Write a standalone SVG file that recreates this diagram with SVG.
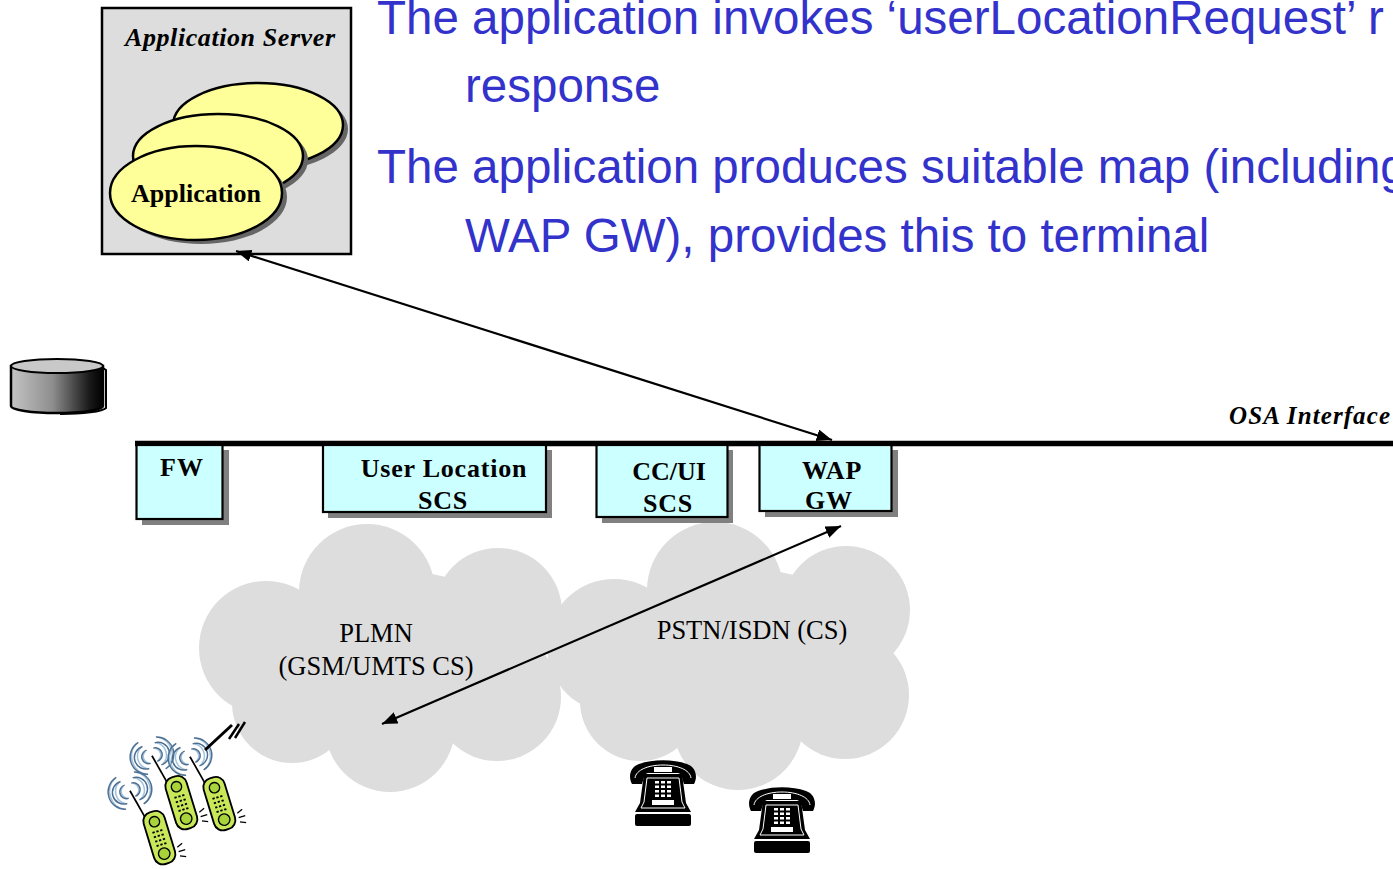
<svg xmlns="http://www.w3.org/2000/svg" xmlns:xlink="http://www.w3.org/1999/xlink" width="1393" height="869" viewBox="0 0 1393 869">
  <style>
    .box{fill:#ccffff;stroke:#000;stroke-width:2.2}
    .shadow{fill:#808080}
    .lbl{font-family:"Liberation Serif","Times New Roman",serif;font-weight:bold;font-size:26px;text-anchor:middle;fill:#000}
    .net{font-family:"Liberation Serif","Times New Roman",serif;font-size:26.5px;text-anchor:middle;fill:#000}
    .ital{font-family:"Liberation Serif","Times New Roman",serif;font-weight:bold;font-style:italic;fill:#000}
    .blue{font-family:"Liberation Sans",Arial,sans-serif;font-size:47.5px;fill:#3333cc}
    .conn{stroke:#000;stroke-width:2.2;fill:none;marker-start:url(#ah);marker-end:url(#ah)}
    .app{fill:#ffff99;stroke:#000;stroke-width:2.5}
    .appsh{fill:#666}
    .wave{fill:none;stroke:#4f6f90;stroke-width:1.3}
    .wave2{fill:none;stroke:#9fc3e0;stroke-width:1.3}
  </style>
  <defs>
    <marker id="ah" viewBox="0 0 10 10" refX="10" refY="5" markerWidth="7" markerHeight="5.5" orient="auto-start-reverse" markerUnits="strokeWidth" preserveAspectRatio="none">
      <path d="M0,0 L10,5 L0,10 Z" fill="#000"/>
    </marker>
    <linearGradient id="cylBody" x1="0" y1="0" x2="1" y2="0">
      <stop offset="0" stop-color="#c4c4c4"/>
      <stop offset="0.45" stop-color="#8e8e8e"/>
      <stop offset="0.85" stop-color="#1a1a1a"/>
      <stop offset="1" stop-color="#000"/>
    </linearGradient>
    <!-- cloud outline built from overlapping discs -->
    <g id="cloud" fill="#dddddd">
      <circle cx="367" cy="592" r="68"/>
      <circle cx="498" cy="612" r="64"/>
      <circle cx="266" cy="648" r="67"/>
      <circle cx="292" cy="703" r="60"/>
      <circle cx="390" cy="727" r="65"/>
      <circle cx="497" cy="697" r="64"/>
      <ellipse cx="390" cy="655" rx="140" ry="85"/>
    </g>
    <!-- desk telephone -->
    <g id="deskphone">
      <path d="M16,15 L54,15 L58,44 L63,53 L7,53 L12,44 Z" fill="#000"/>
      <path d="M19,19 L51,19 L54,43 L57,49 L13,49 L16,43 Z" fill="none" stroke="#fff" stroke-width="1"/>
      <path d="M4,25 C0,18 2,8 11,5 C25,0 45,0 59,5 C68,8 70,18 66,25 L56,25 C54,19 54,15 50,14 L20,14 C16,15 16,19 14,25 Z" fill="#000"/>
      <path d="M7,19 C8,11 20,6 35,6 C50,6 62,11 63,19" fill="none" stroke="#fff" stroke-width="1"/>
      <rect x="26" y="8" width="18" height="5" fill="#fff"/>
      <g fill="#fff">
        <rect x="27" y="22" width="4" height="2.5"/><rect x="33" y="22" width="4" height="2.5"/><rect x="39" y="22" width="4" height="2.5"/>
        <rect x="27" y="26.5" width="4" height="2.5"/><rect x="33" y="26.5" width="4" height="2.5"/><rect x="39" y="26.5" width="4" height="2.5"/>
        <rect x="27" y="31" width="4" height="2.5"/><rect x="33" y="31" width="4" height="2.5"/><rect x="39" y="31" width="4" height="2.5"/>
        <rect x="27" y="35.5" width="4" height="2.5"/><rect x="33" y="35.5" width="4" height="2.5"/><rect x="39" y="35.5" width="4" height="2.5"/>
        <rect x="24" y="41" width="22" height="5"/>
      </g>
      <rect x="7" y="55" width="56" height="12" rx="2" fill="#000"/>
      <line x1="9" y1="54" x2="61" y2="54" stroke="#fff" stroke-width="1"/>
    </g>
    <!-- mobile handset with radio waves -->
    <g id="cell">
      <path class="wave2" d="M-7.5,-28.3 A6,6 0 0 0 -7.5,-17.7 M-10,-32.6 A11,11 0 0 0 -10,-13.4 M-12.5,-37 A16,16 0 0 0 -12.5,-9"/>
      <path class="wave" d="M-6,-29 A5,5 0 0 0 -6,-17 M-8.5,-33 A10,10 0 0 0 -8.5,-13 M-11,-37.5 A15,15 0 0 0 -11,-8.5"/>
      <path class="wave2" d="M1.5,-28.3 A6,6 0 0 1 1.5,-17.7 M4,-32.6 A11,11 0 0 1 4,-13.4 M6.5,-37 A16,16 0 0 1 6.5,-9"/>
      <path class="wave" d="M0,-29 A5,5 0 0 1 0,-17 M2.5,-33 A10,10 0 0 1 2.5,-13 M5,-37.5 A15,15 0 0 1 5,-8.5"/>
      <line x1="-3" y1="-23" x2="3" y2="4" stroke="#000" stroke-width="1.5"/>
      <rect x="0" y="0" width="19" height="47" rx="8" fill="#c8e85a" stroke="#000" stroke-width="1.6"/>
      <circle cx="9.5" cy="9" r="4.5" fill="#a8d43a" stroke="#000" stroke-width="1.2"/>
      <circle cx="9.5" cy="38" r="5" fill="#a8d43a" stroke="#000" stroke-width="1.2"/>
      <g fill="#000">
        <rect x="5" y="17" width="2" height="1.6"/><rect x="8.5" y="17" width="2" height="1.6"/><rect x="12" y="17" width="2" height="1.6"/>
        <rect x="5" y="21" width="2" height="1.6"/><rect x="8.5" y="21" width="2" height="1.6"/><rect x="12" y="21" width="2" height="1.6"/>
        <rect x="5" y="25" width="2" height="1.6"/><rect x="8.5" y="25" width="2" height="1.6"/><rect x="12" y="25" width="2" height="1.6"/>
        <rect x="5" y="29" width="2" height="1.6"/><rect x="8.5" y="29" width="2" height="1.6"/><rect x="12" y="29" width="2" height="1.6"/>
      </g>
      <path d="M22,36 L27,34 M22,40 L28,40 M22,44 L27,46" stroke="#000" stroke-width="1.1"/>
    </g>
  </defs>

  <!-- explanatory text -->
  <g id="notes">
    <text class="blue" x="377" y="34">The application invokes ‘userLocationRequest’ r</text>
    <text class="blue" x="465" y="102">response</text>
    <text class="blue" x="377" y="183">The application produces suitable map (including</text>
    <text class="blue" x="465" y="252">WAP GW), provides this to terminal</text>
  </g>

  <!-- networks -->
  <g id="plmn">
    <use xlink:href="#cloud"/>
    <text class="net" x="376" y="642">PLMN</text>
    <text class="net" x="376" y="675">(GSM/UMTS CS)</text>
  </g>
  <g id="pstn">
    <use xlink:href="#cloud" transform="translate(348,-2)"/>
    <text class="net" x="752" y="639">PSTN/ISDN (CS)</text>
  </g>

  <!-- application server -->
  <g id="app-server">
    <rect x="102" y="8" width="249" height="246" fill="#dddddd" stroke="#000" stroke-width="2.5"/>
    <text class="ital" x="125" y="46" font-size="26" textLength="210" lengthAdjust="spacing">Application Server</text>
    <ellipse class="appsh" cx="263" cy="129" rx="85" ry="42"/>
    <ellipse class="app" cx="258" cy="125" rx="85" ry="42"/>
    <ellipse class="appsh" cx="223" cy="160" rx="85" ry="42"/>
    <ellipse class="app" cx="218" cy="156" rx="85" ry="42"/>
    <ellipse class="appsh" cx="201" cy="197" rx="86" ry="47"/>
    <ellipse class="app" cx="196" cy="193" rx="86" ry="47"/>
    <text class="lbl" x="196" y="202">Application</text>
  </g>

  <!-- database -->
  <g id="database">
    <path d="M11,366 L11,406 A46,7 0 0 0 103,406 L103,366 Z" fill="url(#cylBody)" stroke="#000" stroke-width="2.5"/>
    <path d="M103,368 L106,370 L106,408 A46,7 0 0 1 60,414" fill="none" stroke="#000" stroke-width="2"/>
    <ellipse cx="57" cy="366" rx="46" ry="7" fill="#c8c8c8" stroke="#000" stroke-width="2"/>
  </g>

  <!-- OSA interface bus -->
  <g id="osa-bus">
    <line x1="135" y1="443.5" x2="1393" y2="443.5" stroke="#000" stroke-width="5.5"/>
    <text class="ital" x="1390" y="424" font-size="25" text-anchor="end" textLength="161" lengthAdjust="spacing">OSA Interface</text>
  </g>

  <!-- service capability servers -->
  <g id="fw">
    <rect class="shadow" x="142" y="450" width="87" height="75"/>
    <rect class="box" x="136.5" y="445" width="86" height="74"/>
    <text class="lbl" x="182" y="476" letter-spacing="1">FW</text>
  </g>
  <g id="user-location-scs">
    <rect class="shadow" x="328" y="450" width="224" height="68"/>
    <rect class="box" x="323" y="445" width="223" height="67"/>
    <text class="lbl" x="444" y="477" letter-spacing="0.8">User Location</text>
    <text class="lbl" x="443" y="509" letter-spacing="0.8">SCS</text>
  </g>
  <g id="ccui-scs">
    <rect class="shadow" x="602" y="450" width="131" height="73"/>
    <rect class="box" x="596.5" y="445" width="131" height="72"/>
    <text class="lbl" x="669" y="480">CC/UI</text>
    <text class="lbl" x="668" y="512" letter-spacing="0.8">SCS</text>
  </g>
  <g id="wap-gw">
    <rect class="shadow" x="765" y="450" width="133" height="67"/>
    <rect class="box" x="759.5" y="445" width="132" height="66"/>
    <text class="lbl" x="832" y="479" letter-spacing="0.8">WAP</text>
    <text class="lbl" x="829" y="509" letter-spacing="0.8">GW</text>
  </g>

  <!-- terminals -->
  <g id="mobiles">
    <g transform="translate(163,780) rotate(-17) scale(1.15)"><use xlink:href="#cell"/></g>
    <g transform="translate(201,781) rotate(-17) scale(1.15)"><use xlink:href="#cell"/></g>
    <g transform="translate(141,815) rotate(-17) scale(1.15)"><use xlink:href="#cell"/></g>
    <line x1="205" y1="750" x2="232" y2="725" stroke="#000" stroke-width="3"/>
    <line x1="229" y1="739" x2="239" y2="724" stroke="#000" stroke-width="2.5"/>
    <line x1="235" y1="738" x2="245" y2="722" stroke="#000" stroke-width="2.5"/>
  </g>
  <g id="fixed-phones">
    <use xlink:href="#deskphone" transform="translate(628,759)"/>
    <use xlink:href="#deskphone" transform="translate(747,786)"/>
  </g>

  <!-- connectors -->
  <g id="connectors">
    <line class="conn" x1="236" y1="251" x2="832" y2="440"/>
    <line class="conn" x1="841" y1="526" x2="382" y2="724"/>
  </g>
</svg>
